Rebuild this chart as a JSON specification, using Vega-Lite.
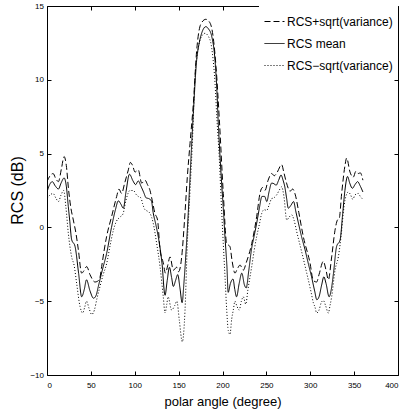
{
  "$schema": "https://vega.github.io/schema/vega-lite/v6.json",
  "width": 351,
  "height": 369,
  "autosize": {"type": "none"},
  "padding": {"left": 47, "top": 6, "right": 5, "bottom": 39},
  "background": "white",
  "config": {
    "font": "Liberation Sans",
    "view": {"stroke": "black", "strokeWidth": 1},
    "axis": {"domain": false, "grid": false, "tickColor": "black", "tickSize": -4, "tickWidth": 1, "labelColor": "black", "titleColor": "black", "labelFont": "Liberation Sans", "titleFont": "Liberation Sans", "labelFontSize": 8, "titleFontWeight": "normal"}
  },
  "data": {"values": [
    {"a":0,"v":2.4,"s":"RCS mean"},{"a":3,"v":2.9,"s":"RCS mean"},{"a":6,"v":3.1,"s":"RCS mean"},{"a":9.5,"v":2.8,"s":"RCS mean"},{"a":13,"v":2.6,"s":"RCS mean"},{"a":16,"v":3.0,"s":"RCS mean"},{"a":19.5,"v":3.35,"s":"RCS mean"},{"a":22,"v":2.8,"s":"RCS mean"},{"a":24.3,"v":1.4,"s":"RCS mean"},{"a":26,"v":0.4,"s":"RCS mean"},{"a":28,"v":-0.8,"s":"RCS mean"},{"a":32,"v":-1.3,"s":"RCS mean"},{"a":36,"v":-3.1,"s":"RCS mean"},{"a":39.5,"v":-4.7,"s":"RCS mean"},{"a":42.5,"v":-4.2,"s":"RCS mean"},{"a":45,"v":-3.55,"s":"RCS mean"},{"a":49,"v":-4.3,"s":"RCS mean"},{"a":53,"v":-4.8,"s":"RCS mean"},{"a":56,"v":-4.6,"s":"RCS mean"},{"a":58.5,"v":-4.0,"s":"RCS mean"},{"a":63,"v":-2.9,"s":"RCS mean"},{"a":68,"v":-1.75,"s":"RCS mean"},{"a":73.5,"v":0.0,"s":"RCS mean"},{"a":78,"v":1.2,"s":"RCS mean"},{"a":81.3,"v":1.8,"s":"RCS mean"},{"a":84,"v":1.6,"s":"RCS mean"},{"a":87,"v":1.3,"s":"RCS mean"},{"a":90,"v":2.4,"s":"RCS mean"},{"a":94,"v":3.6,"s":"RCS mean"},{"a":98,"v":3.15,"s":"RCS mean"},{"a":101,"v":2.9,"s":"RCS mean"},{"a":104,"v":3.15,"s":"RCS mean"},{"a":107,"v":2.8,"s":"RCS mean"},{"a":110,"v":2.4,"s":"RCS mean"},{"a":113,"v":2.0,"s":"RCS mean"},{"a":116,"v":1.95,"s":"RCS mean"},{"a":119,"v":1.8,"s":"RCS mean"},{"a":121,"v":1.0,"s":"RCS mean"},{"a":124,"v":0.2,"s":"RCS mean"},{"a":127,"v":-0.7,"s":"RCS mean"},{"a":131,"v":-2.4,"s":"RCS mean"},{"a":134.5,"v":-4.6,"s":"RCS mean"},{"a":137,"v":-3.6,"s":"RCS mean"},{"a":139.5,"v":-2.7,"s":"RCS mean"},{"a":142,"v":-3.4,"s":"RCS mean"},{"a":144,"v":-4.0,"s":"RCS mean"},{"a":146.5,"v":-3.6,"s":"RCS mean"},{"a":149,"v":-3.2,"s":"RCS mean"},{"a":151.5,"v":-4.1,"s":"RCS mean"},{"a":154,"v":-5.1,"s":"RCS mean"},{"a":156,"v":-3.8,"s":"RCS mean"},{"a":159,"v":-1.1,"s":"RCS mean"},{"a":161,"v":1.0,"s":"RCS mean"},{"a":163,"v":3.4,"s":"RCS mean"},{"a":165,"v":5.8,"s":"RCS mean"},{"a":167,"v":8.0,"s":"RCS mean"},{"a":170.5,"v":11.3,"s":"RCS mean"},{"a":173.5,"v":12.5,"s":"RCS mean"},{"a":176.5,"v":13.2,"s":"RCS mean"},{"a":181,"v":13.6,"s":"RCS mean"},{"a":184,"v":13.45,"s":"RCS mean"},{"a":187.5,"v":13.0,"s":"RCS mean"},{"a":191.5,"v":11.3,"s":"RCS mean"},{"a":193.5,"v":9.4,"s":"RCS mean"},{"a":195,"v":7.3,"s":"RCS mean"},{"a":197,"v":5.0,"s":"RCS mean"},{"a":199,"v":3.0,"s":"RCS mean"},{"a":201,"v":1.2,"s":"RCS mean"},{"a":203,"v":-0.8,"s":"RCS mean"},{"a":205,"v":-2.6,"s":"RCS mean"},{"a":206.5,"v":-4.4,"s":"RCS mean"},{"a":209,"v":-3.8,"s":"RCS mean"},{"a":212,"v":-3.5,"s":"RCS mean"},{"a":214,"v":-4.2,"s":"RCS mean"},{"a":216,"v":-4.7,"s":"RCS mean"},{"a":219,"v":-3.8,"s":"RCS mean"},{"a":222,"v":-3.1,"s":"RCS mean"},{"a":225,"v":-3.9,"s":"RCS mean"},{"a":227,"v":-4.1,"s":"RCS mean"},{"a":230,"v":-2.9,"s":"RCS mean"},{"a":233,"v":-1.5,"s":"RCS mean"},{"a":236,"v":-0.6,"s":"RCS mean"},{"a":239,"v":0.3,"s":"RCS mean"},{"a":242,"v":1.3,"s":"RCS mean"},{"a":245,"v":2.1,"s":"RCS mean"},{"a":248,"v":2.1,"s":"RCS mean"},{"a":250.5,"v":1.75,"s":"RCS mean"},{"a":253,"v":2.4,"s":"RCS mean"},{"a":256,"v":3.0,"s":"RCS mean"},{"a":259,"v":2.95,"s":"RCS mean"},{"a":261,"v":2.85,"s":"RCS mean"},{"a":264,"v":3.2,"s":"RCS mean"},{"a":266.7,"v":3.55,"s":"RCS mean"},{"a":269,"v":3.2,"s":"RCS mean"},{"a":271,"v":2.75,"s":"RCS mean"},{"a":273,"v":2.0,"s":"RCS mean"},{"a":275,"v":1.3,"s":"RCS mean"},{"a":278,"v":1.5,"s":"RCS mean"},{"a":281,"v":1.75,"s":"RCS mean"},{"a":283.5,"v":1.1,"s":"RCS mean"},{"a":286.5,"v":0.3,"s":"RCS mean"},{"a":290,"v":-0.6,"s":"RCS mean"},{"a":294,"v":-1.5,"s":"RCS mean"},{"a":298,"v":-2.5,"s":"RCS mean"},{"a":301.5,"v":-3.35,"s":"RCS mean"},{"a":305,"v":-4.3,"s":"RCS mean"},{"a":307.5,"v":-4.9,"s":"RCS mean"},{"a":310,"v":-4.7,"s":"RCS mean"},{"a":313,"v":-3.9,"s":"RCS mean"},{"a":315.5,"v":-3.35,"s":"RCS mean"},{"a":318,"v":-3.8,"s":"RCS mean"},{"a":321.5,"v":-4.7,"s":"RCS mean"},{"a":324,"v":-4.2,"s":"RCS mean"},{"a":326.5,"v":-3.1,"s":"RCS mean"},{"a":330,"v":-1.3,"s":"RCS mean"},{"a":334,"v":-0.85,"s":"RCS mean"},{"a":337,"v":0.95,"s":"RCS mean"},{"a":339.5,"v":2.5,"s":"RCS mean"},{"a":342.5,"v":3.45,"s":"RCS mean"},{"a":345,"v":3.0,"s":"RCS mean"},{"a":348,"v":2.65,"s":"RCS mean"},{"a":351,"v":2.9,"s":"RCS mean"},{"a":354,"v":3.1,"s":"RCS mean"},{"a":357,"v":2.8,"s":"RCS mean"},{"a":360,"v":2.4,"s":"RCS mean"},

    {"a":0,"v":3.1,"s":"RCS+sqrt(variance)"},{"a":3.5,"v":3.5,"s":"RCS+sqrt(variance)"},{"a":7,"v":3.65,"s":"RCS+sqrt(variance)"},{"a":10,"v":3.3,"s":"RCS+sqrt(variance)"},{"a":13,"v":3.1,"s":"RCS+sqrt(variance)"},{"a":16.5,"v":4.0,"s":"RCS+sqrt(variance)"},{"a":19.5,"v":4.8,"s":"RCS+sqrt(variance)"},{"a":22,"v":4.2,"s":"RCS+sqrt(variance)"},{"a":24.5,"v":2.6,"s":"RCS+sqrt(variance)"},{"a":27,"v":1.4,"s":"RCS+sqrt(variance)"},{"a":30,"v":0.5,"s":"RCS+sqrt(variance)"},{"a":33,"v":-0.4,"s":"RCS+sqrt(variance)"},{"a":35.7,"v":-1.5,"s":"RCS+sqrt(variance)"},{"a":39.5,"v":-3.1,"s":"RCS+sqrt(variance)"},{"a":42.5,"v":-2.9,"s":"RCS+sqrt(variance)"},{"a":45.2,"v":-2.65,"s":"RCS+sqrt(variance)"},{"a":49,"v":-3.2,"s":"RCS+sqrt(variance)"},{"a":54.7,"v":-3.7,"s":"RCS+sqrt(variance)"},{"a":59.6,"v":-3.55,"s":"RCS+sqrt(variance)"},{"a":62.3,"v":-2.65,"s":"RCS+sqrt(variance)"},{"a":65,"v":-1.6,"s":"RCS+sqrt(variance)"},{"a":68,"v":-0.6,"s":"RCS+sqrt(variance)"},{"a":73.7,"v":0.75,"s":"RCS+sqrt(variance)"},{"a":79.4,"v":2.1,"s":"RCS+sqrt(variance)"},{"a":82,"v":2.6,"s":"RCS+sqrt(variance)"},{"a":85,"v":2.3,"s":"RCS+sqrt(variance)"},{"a":88.5,"v":3.0,"s":"RCS+sqrt(variance)"},{"a":92.7,"v":3.9,"s":"RCS+sqrt(variance)"},{"a":95,"v":4.4,"s":"RCS+sqrt(variance)"},{"a":97.5,"v":4.2,"s":"RCS+sqrt(variance)"},{"a":100.3,"v":3.75,"s":"RCS+sqrt(variance)"},{"a":104,"v":3.9,"s":"RCS+sqrt(variance)"},{"a":107.9,"v":3.0,"s":"RCS+sqrt(variance)"},{"a":111.7,"v":3.2,"s":"RCS+sqrt(variance)"},{"a":114.5,"v":2.9,"s":"RCS+sqrt(variance)"},{"a":117.4,"v":2.5,"s":"RCS+sqrt(variance)"},{"a":120,"v":1.8,"s":"RCS+sqrt(variance)"},{"a":123,"v":0.95,"s":"RCS+sqrt(variance)"},{"a":126,"v":0.5,"s":"RCS+sqrt(variance)"},{"a":128.8,"v":-1.5,"s":"RCS+sqrt(variance)"},{"a":132.5,"v":-2.4,"s":"RCS+sqrt(variance)"},{"a":135,"v":-3.1,"s":"RCS+sqrt(variance)"},{"a":137.5,"v":-2.6,"s":"RCS+sqrt(variance)"},{"a":140.2,"v":-2.0,"s":"RCS+sqrt(variance)"},{"a":144,"v":-2.9,"s":"RCS+sqrt(variance)"},{"a":147.8,"v":-2.7,"s":"RCS+sqrt(variance)"},{"a":150,"v":-3.0,"s":"RCS+sqrt(variance)"},{"a":153.5,"v":-2.0,"s":"RCS+sqrt(variance)"},{"a":156.5,"v":0.3,"s":"RCS+sqrt(variance)"},{"a":159.9,"v":3.4,"s":"RCS+sqrt(variance)"},{"a":163,"v":5.7,"s":"RCS+sqrt(variance)"},{"a":166.8,"v":8.4,"s":"RCS+sqrt(variance)"},{"a":170.6,"v":12.0,"s":"RCS+sqrt(variance)"},{"a":175.5,"v":13.8,"s":"RCS+sqrt(variance)"},{"a":181,"v":14.1,"s":"RCS+sqrt(variance)"},{"a":184,"v":14.0,"s":"RCS+sqrt(variance)"},{"a":187.7,"v":13.5,"s":"RCS+sqrt(variance)"},{"a":192.6,"v":10.9,"s":"RCS+sqrt(variance)"},{"a":196.4,"v":7.3,"s":"RCS+sqrt(variance)"},{"a":200.9,"v":2.3,"s":"RCS+sqrt(variance)"},{"a":204.8,"v":-1.1,"s":"RCS+sqrt(variance)"},{"a":208.5,"v":-1.3,"s":"RCS+sqrt(variance)"},{"a":211,"v":-2.3,"s":"RCS+sqrt(variance)"},{"a":214.2,"v":-3.1,"s":"RCS+sqrt(variance)"},{"a":217,"v":-2.8,"s":"RCS+sqrt(variance)"},{"a":220,"v":-2.55,"s":"RCS+sqrt(variance)"},{"a":223.7,"v":-2.9,"s":"RCS+sqrt(variance)"},{"a":227,"v":-2.4,"s":"RCS+sqrt(variance)"},{"a":233.3,"v":-1.1,"s":"RCS+sqrt(variance)"},{"a":239,"v":0.75,"s":"RCS+sqrt(variance)"},{"a":242.7,"v":2.3,"s":"RCS+sqrt(variance)"},{"a":245.5,"v":2.7,"s":"RCS+sqrt(variance)"},{"a":248.4,"v":2.5,"s":"RCS+sqrt(variance)"},{"a":252,"v":3.2,"s":"RCS+sqrt(variance)"},{"a":256,"v":3.65,"s":"RCS+sqrt(variance)"},{"a":259,"v":3.5,"s":"RCS+sqrt(variance)"},{"a":262,"v":3.7,"s":"RCS+sqrt(variance)"},{"a":267.4,"v":4.25,"s":"RCS+sqrt(variance)"},{"a":270,"v":3.7,"s":"RCS+sqrt(variance)"},{"a":273,"v":3.0,"s":"RCS+sqrt(variance)"},{"a":277,"v":2.45,"s":"RCS+sqrt(variance)"},{"a":280,"v":2.6,"s":"RCS+sqrt(variance)"},{"a":283,"v":2.2,"s":"RCS+sqrt(variance)"},{"a":287,"v":1.0,"s":"RCS+sqrt(variance)"},{"a":292,"v":-0.6,"s":"RCS+sqrt(variance)"},{"a":299.7,"v":-2.4,"s":"RCS+sqrt(variance)"},{"a":303.5,"v":-3.6,"s":"RCS+sqrt(variance)"},{"a":307.3,"v":-3.7,"s":"RCS+sqrt(variance)"},{"a":310,"v":-3.2,"s":"RCS+sqrt(variance)"},{"a":314.9,"v":-2.3,"s":"RCS+sqrt(variance)"},{"a":318,"v":-2.9,"s":"RCS+sqrt(variance)"},{"a":320.6,"v":-3.55,"s":"RCS+sqrt(variance)"},{"a":324.4,"v":-2.0,"s":"RCS+sqrt(variance)"},{"a":328.2,"v":-0.2,"s":"RCS+sqrt(variance)"},{"a":331,"v":0.5,"s":"RCS+sqrt(variance)"},{"a":333,"v":0.6,"s":"RCS+sqrt(variance)"},{"a":335.8,"v":2.3,"s":"RCS+sqrt(variance)"},{"a":339.6,"v":4.2,"s":"RCS+sqrt(variance)"},{"a":341.5,"v":4.7,"s":"RCS+sqrt(variance)"},{"a":345.3,"v":3.75,"s":"RCS+sqrt(variance)"},{"a":349,"v":3.4,"s":"RCS+sqrt(variance)"},{"a":352,"v":3.8,"s":"RCS+sqrt(variance)"},{"a":354.8,"v":3.65,"s":"RCS+sqrt(variance)"},{"a":357,"v":3.7,"s":"RCS+sqrt(variance)"},{"a":360,"v":3.2,"s":"RCS+sqrt(variance)"},

    {"a":0,"v":1.95,"s":"RCS−sqrt(variance)"},{"a":3.5,"v":2.2,"s":"RCS−sqrt(variance)"},{"a":7,"v":2.3,"s":"RCS−sqrt(variance)"},{"a":10,"v":2.0,"s":"RCS−sqrt(variance)"},{"a":13,"v":1.75,"s":"RCS−sqrt(variance)"},{"a":16,"v":2.2,"s":"RCS−sqrt(variance)"},{"a":19,"v":2.5,"s":"RCS−sqrt(variance)"},{"a":21.5,"v":1.4,"s":"RCS−sqrt(variance)"},{"a":24.3,"v":-0.4,"s":"RCS−sqrt(variance)"},{"a":28.1,"v":-2.0,"s":"RCS−sqrt(variance)"},{"a":31,"v":-2.6,"s":"RCS−sqrt(variance)"},{"a":33.8,"v":-3.8,"s":"RCS−sqrt(variance)"},{"a":37.6,"v":-5.35,"s":"RCS−sqrt(variance)"},{"a":40.6,"v":-5.8,"s":"RCS−sqrt(variance)"},{"a":43,"v":-5.4,"s":"RCS−sqrt(variance)"},{"a":45,"v":-5.0,"s":"RCS−sqrt(variance)"},{"a":48,"v":-5.5,"s":"RCS−sqrt(variance)"},{"a":50.9,"v":-5.9,"s":"RCS−sqrt(variance)"},{"a":54,"v":-5.6,"s":"RCS−sqrt(variance)"},{"a":57,"v":-4.8,"s":"RCS−sqrt(variance)"},{"a":60.4,"v":-4.0,"s":"RCS−sqrt(variance)"},{"a":64,"v":-3.2,"s":"RCS−sqrt(variance)"},{"a":68,"v":-2.45,"s":"RCS−sqrt(variance)"},{"a":72,"v":-1.2,"s":"RCS−sqrt(variance)"},{"a":75.6,"v":-0.2,"s":"RCS−sqrt(variance)"},{"a":79,"v":0.4,"s":"RCS−sqrt(variance)"},{"a":83.2,"v":0.7,"s":"RCS−sqrt(variance)"},{"a":86.5,"v":0.9,"s":"RCS−sqrt(variance)"},{"a":90,"v":1.85,"s":"RCS−sqrt(variance)"},{"a":94.6,"v":2.5,"s":"RCS−sqrt(variance)"},{"a":98.4,"v":2.5,"s":"RCS−sqrt(variance)"},{"a":102,"v":2.2,"s":"RCS−sqrt(variance)"},{"a":104,"v":2.1,"s":"RCS−sqrt(variance)"},{"a":107,"v":2.0,"s":"RCS−sqrt(variance)"},{"a":109,"v":1.6,"s":"RCS−sqrt(variance)"},{"a":111.7,"v":1.2,"s":"RCS−sqrt(variance)"},{"a":114.5,"v":1.1,"s":"RCS−sqrt(variance)"},{"a":117.4,"v":0.95,"s":"RCS−sqrt(variance)"},{"a":121,"v":0.3,"s":"RCS−sqrt(variance)"},{"a":125,"v":-1.1,"s":"RCS−sqrt(variance)"},{"a":128.8,"v":-2.65,"s":"RCS−sqrt(variance)"},{"a":132.5,"v":-4.7,"s":"RCS−sqrt(variance)"},{"a":134.5,"v":-5.8,"s":"RCS−sqrt(variance)"},{"a":136.5,"v":-5.2,"s":"RCS−sqrt(variance)"},{"a":138,"v":-4.7,"s":"RCS−sqrt(variance)"},{"a":142,"v":-5.6,"s":"RCS−sqrt(variance)"},{"a":145.5,"v":-5.3,"s":"RCS−sqrt(variance)"},{"a":148,"v":-5.0,"s":"RCS−sqrt(variance)"},{"a":150.8,"v":-6.3,"s":"RCS−sqrt(variance)"},{"a":154.2,"v":-7.75,"s":"RCS−sqrt(variance)"},{"a":157.3,"v":-5.6,"s":"RCS−sqrt(variance)"},{"a":159.9,"v":-1.1,"s":"RCS−sqrt(variance)"},{"a":163,"v":2.5,"s":"RCS−sqrt(variance)"},{"a":165.5,"v":5.5,"s":"RCS−sqrt(variance)"},{"a":168.7,"v":10.2,"s":"RCS−sqrt(variance)"},{"a":171.5,"v":11.8,"s":"RCS−sqrt(variance)"},{"a":174.4,"v":12.7,"s":"RCS−sqrt(variance)"},{"a":180,"v":13.15,"s":"RCS−sqrt(variance)"},{"a":185.8,"v":12.7,"s":"RCS−sqrt(variance)"},{"a":188.5,"v":11.8,"s":"RCS−sqrt(variance)"},{"a":191.5,"v":9.75,"s":"RCS−sqrt(variance)"},{"a":193.5,"v":7.5,"s":"RCS−sqrt(variance)"},{"a":196.4,"v":4.6,"s":"RCS−sqrt(variance)"},{"a":198.5,"v":1.8,"s":"RCS−sqrt(variance)"},{"a":200.9,"v":-1.1,"s":"RCS−sqrt(variance)"},{"a":203,"v":-3.5,"s":"RCS−sqrt(variance)"},{"a":204.8,"v":-5.6,"s":"RCS−sqrt(variance)"},{"a":206.6,"v":-7.0,"s":"RCS−sqrt(variance)"},{"a":208.5,"v":-7.25,"s":"RCS−sqrt(variance)"},{"a":210.5,"v":-6.2,"s":"RCS−sqrt(variance)"},{"a":212.3,"v":-5.6,"s":"RCS−sqrt(variance)"},{"a":214.2,"v":-5.0,"s":"RCS−sqrt(variance)"},{"a":216.2,"v":-5.3,"s":"RCS−sqrt(variance)"},{"a":219,"v":-5.6,"s":"RCS−sqrt(variance)"},{"a":221.5,"v":-5.0,"s":"RCS−sqrt(variance)"},{"a":223.7,"v":-4.7,"s":"RCS−sqrt(variance)"},{"a":226.5,"v":-5.2,"s":"RCS−sqrt(variance)"},{"a":229,"v":-4.2,"s":"RCS−sqrt(variance)"},{"a":233.3,"v":-2.65,"s":"RCS−sqrt(variance)"},{"a":236,"v":-1.6,"s":"RCS−sqrt(variance)"},{"a":239,"v":-0.6,"s":"RCS−sqrt(variance)"},{"a":242,"v":0.2,"s":"RCS−sqrt(variance)"},{"a":244.7,"v":0.95,"s":"RCS−sqrt(variance)"},{"a":247.5,"v":1.2,"s":"RCS−sqrt(variance)"},{"a":250.4,"v":1.15,"s":"RCS−sqrt(variance)"},{"a":253,"v":1.5,"s":"RCS−sqrt(variance)"},{"a":256,"v":1.95,"s":"RCS−sqrt(variance)"},{"a":258.5,"v":2.0,"s":"RCS−sqrt(variance)"},{"a":261.7,"v":2.2,"s":"RCS−sqrt(variance)"},{"a":264.5,"v":2.5,"s":"RCS−sqrt(variance)"},{"a":267.4,"v":2.75,"s":"RCS−sqrt(variance)"},{"a":270,"v":2.1,"s":"RCS−sqrt(variance)"},{"a":273.2,"v":0.5,"s":"RCS−sqrt(variance)"},{"a":276,"v":0.7,"s":"RCS−sqrt(variance)"},{"a":278.9,"v":0.85,"s":"RCS−sqrt(variance)"},{"a":281.5,"v":0.5,"s":"RCS−sqrt(variance)"},{"a":284.6,"v":-0.3,"s":"RCS−sqrt(variance)"},{"a":290,"v":-1.6,"s":"RCS−sqrt(variance)"},{"a":296,"v":-3.1,"s":"RCS−sqrt(variance)"},{"a":301,"v":-4.4,"s":"RCS−sqrt(variance)"},{"a":303.5,"v":-5.1,"s":"RCS−sqrt(variance)"},{"a":305.4,"v":-5.4,"s":"RCS−sqrt(variance)"},{"a":307.3,"v":-5.8,"s":"RCS−sqrt(variance)"},{"a":310,"v":-5.6,"s":"RCS−sqrt(variance)"},{"a":312.5,"v":-5.1,"s":"RCS−sqrt(variance)"},{"a":314.9,"v":-4.95,"s":"RCS−sqrt(variance)"},{"a":317.5,"v":-5.3,"s":"RCS−sqrt(variance)"},{"a":320.6,"v":-5.8,"s":"RCS−sqrt(variance)"},{"a":322.5,"v":-5.3,"s":"RCS−sqrt(variance)"},{"a":324.4,"v":-4.7,"s":"RCS−sqrt(variance)"},{"a":328.2,"v":-2.9,"s":"RCS−sqrt(variance)"},{"a":332,"v":-2.0,"s":"RCS−sqrt(variance)"},{"a":335.8,"v":-0.2,"s":"RCS−sqrt(variance)"},{"a":337.5,"v":0.9,"s":"RCS−sqrt(variance)"},{"a":339.6,"v":1.85,"s":"RCS−sqrt(variance)"},{"a":343.4,"v":2.4,"s":"RCS−sqrt(variance)"},{"a":346,"v":2.2,"s":"RCS−sqrt(variance)"},{"a":348.5,"v":1.9,"s":"RCS−sqrt(variance)"},{"a":351,"v":2.2,"s":"RCS−sqrt(variance)"},{"a":354.8,"v":2.3,"s":"RCS−sqrt(variance)"},{"a":357,"v":2.1,"s":"RCS−sqrt(variance)"},{"a":360,"v":1.9,"s":"RCS−sqrt(variance)"}
  ]},
  "layer": [
    {
      "mark": {"type": "line", "strokeWidth": 1, "color": "black", "clip": true, "interpolate": "monotone"},
      "encoding": {
        "x": {"field": "a", "type": "quantitative", "scale": {"domain": [0, 400], "nice": false, "zero": false},
              "axis": {"orient": "bottom", "values": [0,50,100,150,200,250,300,350,400], "labelPadding": 10, "title": "polar angle (degree)", "titleFontSize": 13, "titleY": 26, "titleBaseline": "middle"}},
        "y": {"field": "v", "type": "quantitative", "scale": {"domain": [-10, 15], "nice": false, "zero": false},
              "axis": {"orient": "left", "values": [-10,-5,0,5,10,15], "labelPadding": 7.5, "title": "RCS (dB)", "titleFontSize": 16, "titleX": -22, "titleY": 184, "titleBaseline": "bottom"}},
        "strokeDash": {"field": "s", "type": "nominal",
          "scale": {"domain": ["RCS+sqrt(variance)", "RCS mean", "RCS−sqrt(variance)"], "range": [[6, 3], [1, 0], [1, 2]]},
          "legend": {"orient": "top-right", "offset": 0, "title": null, "symbolType": "stroke", "symbolSize": 400, "symbolStrokeWidth": 1, "symbolStrokeColor": "black", "labelFontSize": 12, "labelFont": "Liberation Sans", "labelColor": "black", "labelOffset": 2, "rowPadding": 5, "padding": 5, "fillColor": "white"}}
      }
    },
    {
      "mark": {"type": "line", "opacity": 0},
      "encoding": {
        "x": {"field": "a", "type": "quantitative", "axis": {"orient": "top", "values": [0,50,100,150,200,250,300,350,400], "labels": false, "title": null}},
        "y": {"field": "v", "type": "quantitative", "axis": {"orient": "right", "values": [-10,-5,0,5,10,15], "labels": false, "title": null}}
      }
    }
  ],
  "resolve": {"axis": {"x": "independent", "y": "independent"}}
}
